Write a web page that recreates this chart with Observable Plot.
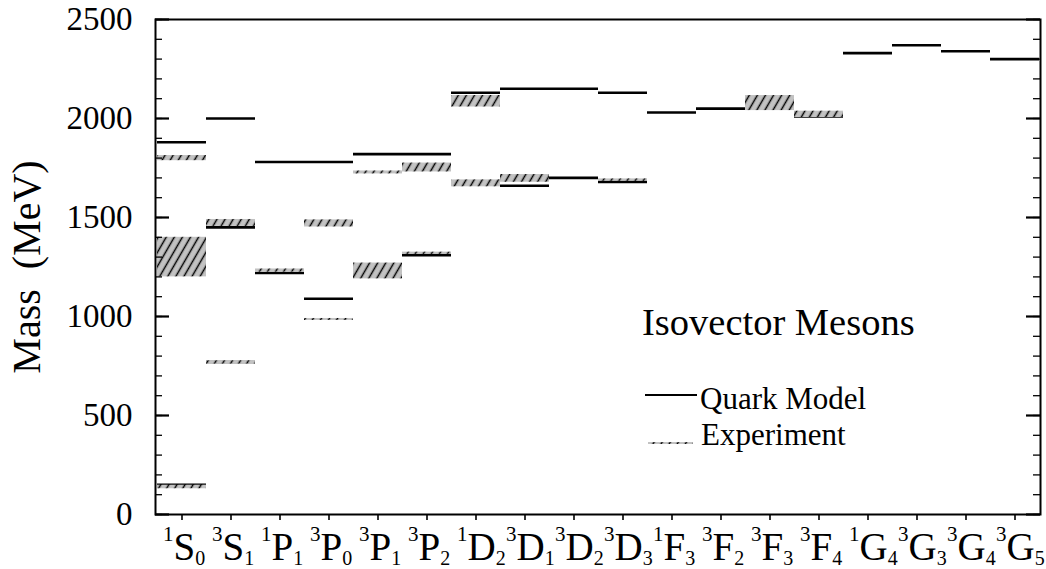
<!DOCTYPE html>
<html><head><meta charset="utf-8">
<script src="https://cdn.jsdelivr.net/npm/d3@7"></script>
<script src="https://cdn.jsdelivr.net/npm/@observablehq/plot@0.6"></script>
<style>
html,body{margin:0;padding:0;background:#fff;}
#chart{width:1046px;height:569px;overflow:hidden;}
</style></head><body><div id="chart"></div>
<script>
// ---- data ----
const states = ["1S0","3S1","1P1","3P0","3P1","3P2","1D2","3D1","3D2","3D3","1F3","3F2","3F3","3F4","1G4","3G3","3G4","3G5"];
const multiplicity = ["1","3","1","3","3","3","1","3","3","3","1","3","3","3","1","3","3","3"];
const orbital = ["S","S","P","P","P","P","D","D","D","D","F","F","F","F","G","G","G","G"];
const totalJ = ["0","1","1","0","1","2","2","1","2","3","3","2","3","4","4","3","4","5"];

const quarkState = ["1S0","1S0","1S0","3S1","3S1","3S1","1P1","1P1","3P0","3P0","3P1","3P1","3P2","3P2","1D2","1D2","3D1","3D1","3D2","3D2","3D3","3D3","1F3","3F2","3F3","3F4","1G4","3G3","3G4","3G5"];
const quarkMass = [150,1300,1880, 770,1450,2000, 1220,1780, 1090,1780, 1240,1820, 1310,1820, 1680,2130, 1660,2150, 1700,2150, 1680,2130, 2030, 2050, 2050, 2010, 2330, 2370, 2340, 2300];

const expState = ["1S0","1S0","1S0","3S1","3S1","1P1","3P0","3P0","3P1","3P1","3P2","3P2","1D2","1D2","3D1","3D3","3F3","3F4"];
const expLow  = [130,1200,1787, 760,1455, 1224, 980,1452, 1190,1720, 1314,1730, 1655,2058, 1678,1683, 2040,2005];
const expHigh = [148,1400,1813, 776,1490, 1240, 990,1488, 1270,1735, 1325,1775, 1690,2116, 1717,1695, 2116,2037];

const yTicks = [0,500,1000,1500,2000,2500];
const yMinorTicks = d3.range(0, 2501, 100);
const yTitle = "Mass\u00a0\u00a0(MeV)";
const chartTitle = "Isovector Mesons";
const legendLabels = ["Quark Model","Experiment"];

// ---- tables ----
const quark = quarkState.map((s,i)=>({state:s, mass:quarkMass[i]}));
const exp = expState.map((s,i)=>({state:s, lo:expLow[i], hi:expHigh[i]}));
const labelInfo = new Map(states.map((s,i)=>[s,{m:multiplicity[i], l:orbital[i], j:totalJ[i]}]));

const W=1046, H=569, ML=155, MR=6, MT=19, MB=55;
const FW = W-ML-MR;
const serif = "'Liberation Serif','Times New Roman',Times,serif";

const plot = Plot.plot({
  width: W, height: H,
  marginLeft: ML, marginRight: MR, marginTop: MT, marginBottom: MB,
  style: {fontFamily: serif, background: "#fff", color: "#000", overflow: "visible"},
  x: {type: "band", domain: states, padding: 0},
  y: {domain: [0,2500]},
  marks: [
    Plot.tickY(quark, {x: "state", y: "mass", stroke: "#000", strokeWidth: 2.6}),
    Plot.barY(exp, {x: "state", y1: "lo", y2: "hi", fill: "url(#hatch)"}),
    // inward ticks, left and right
    Plot.tickY(yMinorTicks, {y: d=>d, insetRight: FW-7, stroke:"#000", strokeWidth:1.3}),
    Plot.tickY(yMinorTicks, {y: d=>d, insetLeft: FW-7, stroke:"#000", strokeWidth:1.3}),
    Plot.tickY(yTicks, {y: d=>d, insetRight: FW-14, stroke:"#000", strokeWidth:2.2}),
    Plot.tickY(yTicks, {y: d=>d, insetLeft: FW-14, stroke:"#000", strokeWidth:2.2}),
    Plot.axisY({ticks: yTicks, tickSize: 0, tickPadding: 23, fontSize: 33, label: null, tickFormat: d=>String(d)}),
    Plot.axisX({tickSize: 6, tickFormat: () => "", label: null, strokeWidth: 1.6}),
    Plot.text(states, {x: d=>d, frameAnchor: "bottom", text: d=>d, textAnchor: "start", lineAnchor: "bottom", dx: -19, dy: 45, fontSize: 39}),
    Plot.frame({stroke: "#000", strokeWidth: 2})
  ]
});

const svg = d3.select(plot);
svg.insert("defs", ":first-child").html(
  `<pattern id="hatch" patternUnits="userSpaceOnUse" width="7" height="7" patternTransform="rotate(30)">
     <rect width="7" height="7" fill="#c2c2c2"/>
     <line x1="3.5" y1="0" x2="3.5" y2="7" stroke="#000" stroke-width="1.5"/>
   </pattern>`);

// spectroscopic labels: superscript multiplicity, letter, subscript J
svg.selectAll("text").filter(function(){ return labelInfo.has(this.textContent.trim()); }).each(function(){
  const t = d3.select(this);
  const info = labelInfo.get(this.textContent.trim());
  t.text(null);
  t.append("tspan").attr("font-size", 21).attr("dy", -19).text(info.m);
  t.append("tspan").attr("font-size", 39).attr("dy", 19).text(info.l);
  t.append("tspan").attr("font-size", 20).attr("dy", 5).text(info.j);
});

// y title
svg.append("text").attr("transform", "translate(40,267) rotate(-90)")
  .attr("text-anchor","middle").attr("font-size",40).attr("font-family",serif).attr("fill","#000")
  .text(yTitle);
// chart title
svg.append("text").attr("x",642).attr("y",335).attr("text-anchor","start").attr("font-size",38.5).attr("font-family",serif).attr("fill","#000")
  .text(chartTitle);
// legend
svg.append("line").attr("x1",645).attr("x2",697).attr("y1",395).attr("y2",395).attr("stroke","#000").attr("stroke-width",2.2);
svg.append("text").attr("x",700).attr("y",409).attr("text-anchor","start").attr("font-size",31).attr("font-family",serif).attr("fill","#000").text(legendLabels[0]);
svg.append("rect").attr("x",648).attr("y",442).attr("width",45).attr("height",2).attr("fill","url(#hatch)");
svg.append("text").attr("x",701).attr("y",445).attr("text-anchor","start").attr("font-size",31).attr("font-family",serif).attr("fill","#000").text(legendLabels[1]);

document.getElementById("chart").appendChild(plot);
</script>
</body></html>
